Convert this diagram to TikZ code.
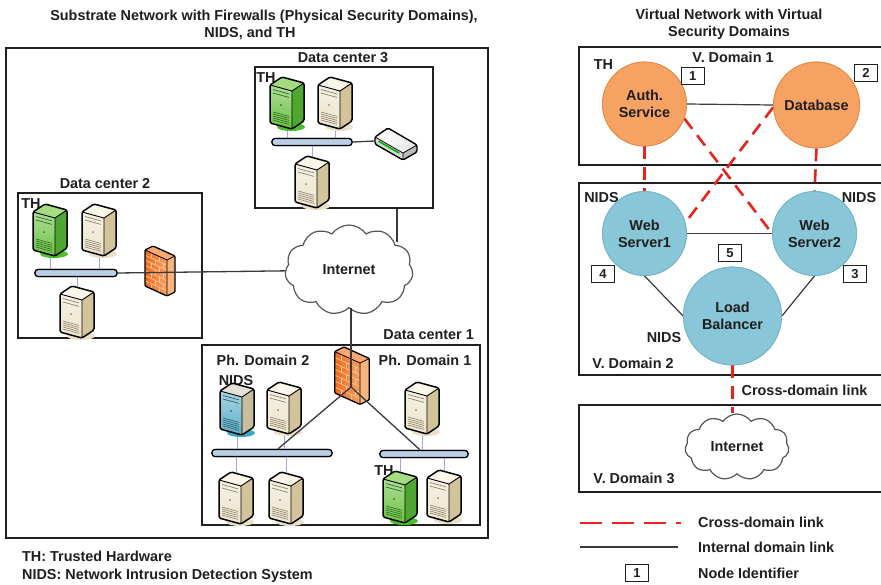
\documentclass[tikz,border=0pt]{standalone}
\usepackage{fontspec}
\setmainfont{Liberation Sans}
\usetikzlibrary{shapes.symbols}

% text and link colours
\definecolor{ink}{HTML}{1F1F1F}
\definecolor{linkgray}{HTML}{3A3A3A}
\definecolor{cloudline}{HTML}{555555}
\definecolor{crossred}{HTML}{E8231E}
\definecolor{busfill}{HTML}{BACFE6}
\definecolor{tapline}{HTML}{A4A4DA}
% virtual nodes
\definecolor{orangefill}{HTML}{F6A262}
\definecolor{orangeedge}{HTML}{E58A48}
\definecolor{bluefill}{HTML}{88C6D8}
\definecolor{blueedge}{HTML}{72B4C8}
% server palettes
\definecolor{beigefront}{HTML}{EDE4CC}
\definecolor{beigeside}{HTML}{D3C39A}
\definecolor{beigetop}{HTML}{FAF6EA}
\definecolor{beigeshadow}{HTML}{E9E0C8}
\definecolor{beigedetail}{HTML}{8C8470}
\definecolor{greenfront}{HTML}{6CC244}
\definecolor{greenside}{HTML}{4EA830}
\definecolor{greentop}{HTML}{A4DC80}
\definecolor{greenshadow}{HTML}{45C22A}
\definecolor{greendetail}{HTML}{2E6E1E}
\definecolor{nidsfront}{HTML}{5FAFC8}
\definecolor{nidsside}{HTML}{C8BE9E}
\definecolor{nidstop}{HTML}{E4E2D6}
\definecolor{nidsshadow}{HTML}{3AA6CC}
\definecolor{nidsdetail}{HTML}{2E5E6E}
% firewall palette
\definecolor{fwdark}{HTML}{EE6A1C}
\definecolor{fwlight}{HTML}{F7A064}
\definecolor{fwside}{HTML}{F9B47E}
\definecolor{fwtop}{HTML}{F8A870}
\definecolor{fwbrick}{HTML}{FBC59A}

\tikzset{
  lbl/.style={font=\fontsize{14.4}{17}\selectfont\bfseries, text=ink, inner sep=0pt},
  tag/.style={lbl, text height=10.4pt, text depth=0pt},
  frame/.style={draw=ink, line width=2.4pt, inner sep=0pt},
  outerframe/.style={draw=ink, line width=1.8pt, inner sep=0pt},
  bus/.style={draw=black, line width=1.2pt, fill=busfill, rounded corners=3pt,
              minimum height=7pt, inner sep=0pt},
  tap/.style={tapline, line width=1pt},
  wire/.style={linkgray, line width=1.3pt},
  intlink/.style={linkgray, line width=1.2pt},
  crosslink/.style={crossred, line width=2.6pt, dash pattern=on 13pt off 8pt},
  netcloud/.style={cloud, cloud puffs=11, cloud puff arc=110, aspect=1.4,
                   draw=cloudline, line width=1.2pt, fill=white, lbl},
  vorange/.style={circle, fill=orangefill, draw=orangeedge, line width=0.8pt,
                  lbl, align=center},
  vblue/.style={circle, fill=bluefill, draw=blueedge, line width=0.8pt,
                lbl, align=center},
  idbox/.style={draw=ink, line width=1.2pt, fill=white, minimum width=23pt,
                minimum height=17pt, inner sep=0pt,
                font=\fontsize{13}{13}\selectfont\bfseries, text=ink},
  % tower server, origin at the bottom centre
  pics/server/.style={code={
    \fill[#1shadow] (4,2) ellipse [x radius=14pt, y radius=4pt];
    \fill[#1side] (5,4) -- (17,-4) -- (17,-42) -- (5,-34) -- cycle;
    \fill[#1top] (-17,-40) -- (5,-34) -- (17,-42) -- (-5,-48) -- cycle;
    \shade[top color=#1front!55!white, bottom color=#1front]
      (-17,-2) -- (5,4) -- (5,-34) -- (-17,-40) -- cycle;
    \draw[#1detail, line width=0.7pt] (-14,-35.5) -- (2,-31.1) (-14,-32) -- (2,-27.6);
    \foreach \k in {0,...,4}{
      \draw[#1detail, line width=0.6pt] (-14,{-13+2*\k}) -- (2,{-8.6+2*\k});
    }
    \fill[#1detail] (-6,-20) circle (1pt);
    \draw[line width=1.5pt, line join=round, rounded corners=1.5pt]
      (-17,-2) -- (5,4) -- (17,-4) -- (17,-42) -- (-5,-48) -- (-17,-40) -- cycle;
    \draw[line width=0.9pt, line join=round] (5,4) -- (5,-34) -- (-17,-40) (5,-34) -- (17,-42);
    \coordinate (-top) at (0,-46);
    \coordinate (-bot) at (0,3);
  }},
  % brick firewall slab, origin at its centre
  pics/firewall/.style={code={
    \fill[fwside] (7,-13) -- (15,-17) -- (15,19) -- (7,23) -- cycle;
    \fill[fwtop] (-15,-23) -- (-7,-27) -- (15,-17) -- (7,-13) -- cycle;
    \shade[left color=fwdark, right color=fwlight]
      (-15,-23) -- (7,-13) -- (7,23) -- (-15,13) -- cycle;
    \foreach \k in {1,...,6}{
      \draw[fwbrick, line width=0.7pt] (-15,{-23+5.14*\k}) -- (7,{-13+5.14*\k});
    }
    \foreach \k in {0,...,6}{
      \foreach \xx in {-9,-1}{
        \pgfmathsetmacro{\xs}{\xx+4*mod(\k,2)}
        \pgfmathsetmacro{\ya}{-23+5.14*\k+(\xs+15)*10/22}
        \draw[fwbrick, line width=0.7pt] (\xs,\ya) -- (\xs,\ya+5.14);
      }
    }
    \draw[line width=1.3pt, line join=round, rounded corners=1pt]
      (-15,-23) -- (-7,-27) -- (15,-17) -- (15,19) -- (7,23) -- (-15,13) -- cycle;
    \draw[line width=0.8pt, line join=round] (-15,-23) -- (7,-13) -- (7,23) (7,-13) -- (15,-17);
  }},
  % flat router box, origin at its centre
  pics/router/.style={code={
    \fill[gray!30] (-21,-4) -- (7,12) -- (7,19) -- (-21,3) -- cycle;
    \fill[gray!55] (7,12) -- (21,4) -- (21,11) -- (7,19) -- cycle;
    \shade[left color=white, right color=gray!20]
      (-21,-4) -- (-8,-13) -- (21,4) -- (7,12) -- cycle;
    \draw[green!70!black, line width=1.6pt, line cap=round] (-17,0.5) -- (3,12);
    \draw[line width=1.4pt, line join=round, rounded corners=1.5pt]
      (-21,-4) -- (-8,-13) -- (21,4) -- (21,11) -- (7,19) -- (-21,3) -- cycle;
    \draw[line width=0.8pt] (-21,-4) -- (7,12) -- (21,4) (7,12) -- (7,19);
    \coordinate (-west) at (-21,0);
  }}
}

\begin{document}
\begin{tikzpicture}[x=1pt, y=-1pt]
\path[use as bounding box] (0,0) rectangle (881,584);
\clip (0,0) rectangle (881,584);
\fill[white] (0,0) rectangle (881,584);

% ---------------- titles ----------------
\node[tag] (ltitle1) at (264,15) {Substrate Network with Firewalls (Physical Security Domains),};
\node[tag] (ltitle2) at (250,32) {NIDS, and TH};
\node[tag] (rtitle1) at (729,14) {Virtual Network with Virtual};
\node[tag] (rtitle2) at (729,31) {Security Domains};

% ---------------- substrate network frames ----------------
\node[outerframe, minimum width=482pt, minimum height=490pt] (substrate) at (247,293) {};
\node[frame, minimum width=178pt, minimum height=141pt] (dc3) at (344,137.5) {};
\node[frame, minimum width=184pt, minimum height=145pt] (dc2) at (110,265.5) {};
\node[frame, minimum width=278pt, minimum height=180pt] (dc1) at (341,435) {};

\node[tag] (dc3lbl) at (343,57) {Data center 3};
\node[tag] (dc2lbl) at (105,183) {Data center 2};
\node[tag, anchor=east] (dc1lbl) at (474,334) {Data center 1};

\node[tag] (dc3th) at (266,77) {TH};
\node[tag] (dc2th) at (31,203) {TH};
\node[tag] (ph2lbl) at (263,360) {Ph. Domain 2};
\node[tag] (ph1lbl) at (425,360) {Ph. Domain 1};
\node[tag] (dc1nids) at (236,380) {NIDS};
\node[tag] (dc1th) at (384,470) {TH};

% internet cloud of the substrate
\node[netcloud, minimum width=128pt, minimum height=90pt] (inet) at (349,270) {Internet};

% buses
\node[bus, minimum width=80pt] (bus3) at (312,142) {};
\node[bus, minimum width=82pt] (bus2) at (76,273) {};
\node[bus, minimum width=120pt] (bus1l) at (272,453) {};
\node[bus, minimum width=88pt] (bus1r) at (424,454) {};

% server positions
\coordinate (p3a) at (287,125);
\coordinate (p3b) at (335,125);
\coordinate (p3c) at (312,204);
\coordinate (p2a) at (50,252);
\coordinate (p2b) at (99,252);
\coordinate (p2c) at (77,334);
\coordinate (p1a) at (237,431);
\coordinate (p1b) at (284,430);
\coordinate (p1c) at (236,520);
\coordinate (p1d) at (286,520);
\coordinate (p1e) at (422,430);
\coordinate (p1f) at (400,519);
\coordinate (p1g) at (444,518);

% taps from servers to their buses
\draw[tap] (p3a) -- (p3a |- bus3.north);
\draw[tap] (p3b) -- (p3b |- bus3.north);
\draw[tap] (p3c |- bus3.south) -- ([yshift=40pt]p3c);
\draw[tap] (p2a) -- (p2a |- bus2.north);
\draw[tap] (p2b) -- (p2b |- bus2.north);
\draw[tap] (p2c |- bus2.south) -- ([yshift=40pt]p2c);
\draw[tap] (p1a) -- (p1a |- bus1l.north);
\draw[tap] (p1b) -- (p1b |- bus1l.north);
\draw[tap] (p1c |- bus1l.south) -- ([yshift=40pt]p1c);
\draw[tap] (p1d |- bus1l.south) -- ([yshift=40pt]p1d);
\draw[tap] (p1e) -- (p1e |- bus1r.north);
\draw[tap] (p1f |- bus1r.south) -- ([yshift=40pt]p1f);
\draw[tap] (p1g |- bus1r.south) -- ([yshift=40pt]p1g);

% redraw buses over the taps
\node[bus, minimum width=80pt] at (bus3) {};
\node[bus, minimum width=82pt] at (bus2) {};
\node[bus, minimum width=120pt] at (bus1l) {};
\node[bus, minimum width=88pt] at (bus1r) {};

% servers
\pic (s3a) at (p3a) {server=green};
\pic (s3b) at (p3b) {server=beige};
\pic (s3c) at (p3c) {server=beige};
\pic (s2a) at (p2a) {server=green};
\pic (s2b) at (p2b) {server=beige};
\pic (s2c) at (p2c) {server=beige};
\pic (s1a) at (p1a) {server=nids};
\pic (s1b) at (p1b) {server=beige};
\pic (s1c) at (p1c) {server=beige};
\pic (s1d) at (p1d) {server=beige};
\pic (s1e) at (p1e) {server=beige};
\pic (s1f) at (p1f) {server=green};
\pic (s1g) at (p1g) {server=beige};

% router and firewalls
\pic (rt3) at (396,141) {router};
\pic (fw2) at (160,273) {firewall};
\pic[scale=1.15] (fw1) at (352,378) {firewall};
\coordinate (hub) at (351,387);
\coordinate (dc3port) at (dc3.south -| 397,0);

% substrate links
\draw[wire] (bus3.east) -- (rt3-west);
\draw[wire] (bus2.east) -- (inet);
\draw[wire] (dc3port) -- (dc3port |- inet.32);
\draw[wire] (hub |- inet.south) -- (hub);
\draw[wire] (hub) -- ([xshift=6pt]bus1l.north);
\draw[wire] (hub) -- ([xshift=-4pt]bus1r.north);

% key for the substrate side
\node[lbl, anchor=west] (thkey) at (22,556) {TH: Trusted Hardware};
\node[lbl, anchor=west] (nidskey) at (22,576) {NIDS: Network Intrusion Detection System};

% ---------------- virtual network ----------------
\node[frame, minimum width=311pt, minimum height=118pt] (vd1) at (734.5,106) {};
\node[frame, minimum width=311pt, minimum height=192pt] (vd2) at (734.5,279) {};
\node[frame, minimum width=311pt, minimum height=87pt] (vd3) at (734.5,448.5) {};

\node[tag] (vd1lbl) at (733,57) {V. Domain 1};
\node[tag] (vd1th) at (603.5,64) {TH};
\node[tag] (vd2lbl) at (633,363) {V. Domain 2};
\node[tag] (vd3lbl) at (634,478) {V. Domain 3};
\node[tag] (ws1nids) at (601.5,197) {NIDS};
\node[tag] (ws2nids) at (859,197) {NIDS};
\node[tag] (lbnids) at (664,337) {NIDS};
\node[tag] (xlinklbl) at (804.5,390) {Cross-domain link};

% virtual nodes (placed first so links can refer to them)
\path (644.5,104) node[vorange, minimum size=84pt] (auth) {Auth.\\Service};
\path (816.5,105) node[vorange, minimum size=86pt] (db) {Database};
\path (644.5,233.5) node[vblue, minimum size=84pt] (ws1) {Web\\Server1};
\path (814.5,233.5) node[vblue, minimum size=84pt] (ws2) {Web\\Server2};
\path (732.5,316) node[vblue, minimum size=98pt] (lb) {Load\\Balancer};
\node[netcloud, minimum width=104pt, minimum height=66pt] (inet2) at (737,447) {Internet};

% links
\draw[intlink] (auth.east) -- (db.west);
\draw[intlink] (ws1.east) -- (ws2.west);
\draw[intlink] (ws1.south) -- (lb.west);
\draw[intlink] (ws2.south) -- (lb.east);
\draw[crosslink] (auth.south) -- (ws1.north);
\draw[crosslink] (db.south) -- (ws2.north);
\draw[crosslink] (auth.-20) -- (ws2.west);
\draw[crosslink] (db.183) -- (ws1.15);
\draw[crosslink] (lb.south) -- (lb.south |- inet2.north);

% redraw the nodes over the link ends
\node[vorange, minimum size=84pt] at (auth) {Auth.\\Service};
\node[vorange, minimum size=86pt] at (db) {Database};
\node[vblue, minimum size=84pt] at (ws1) {Web\\Server1};
\node[vblue, minimum size=84pt] at (ws2) {Web\\Server2};
\node[vblue, minimum size=98pt] at (lb) {Load\\Balancer};

% node identifiers
\node[idbox] (id1) at (692.7,75.7) {1};
\node[idbox] (id2) at (866,73) {2};
\node[idbox] (id3) at (855,274) {3};
\node[idbox] (id4) at (603,274) {4};
\node[idbox] (id5) at (730,253) {5};

% key for the virtual side
\coordinate (keyA) at (580,523);
\coordinate (keyB) at (681,523);
\coordinate (keyC) at (580,547);
\coordinate (keyD) at (678,547);
\draw[crossred, line width=2.6pt, dash pattern=on 22pt off 10pt] (keyA) -- (keyB);
\draw[intlink] (keyC) -- (keyD);
\node[idbox] (keyid) at (637,573) {1};
\node[tag, anchor=west] (keyt1) at (698,522) {Cross-domain link};
\node[tag, anchor=west] (keyt2) at (698,547) {Internal domain link};
\node[tag, anchor=west] (keyt3) at (698,573) {Node Identifier};
\end{tikzpicture}
\end{document}
